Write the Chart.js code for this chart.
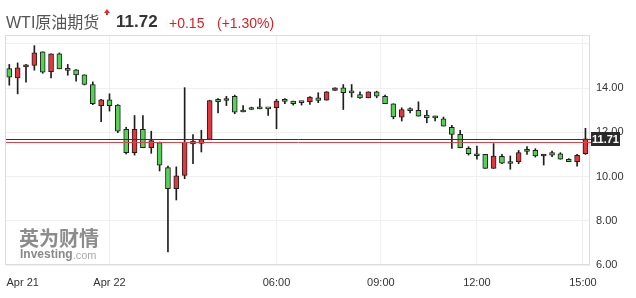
<!DOCTYPE html>
<html>
<head>
<meta charset="utf-8">
<script src="https://cdn.jsdelivr.net/npm/chart.js@4"></script>
<style>
  body { margin: 0; background: #fff; }
  #wrap { position: relative; width: 636px; height: 298px; font-family: "Liberation Sans", Arial, "Noto Sans CJK SC", sans-serif; }
  #wti { position: absolute; left: 0; top: 0; }
  .h { position: absolute; white-space: nowrap; line-height: 20px; }
  #arrow { position: absolute; left: 104px; top: 9px; width: 0; height: 0;
    border-left: 3px solid transparent; border-right: 3px solid transparent; border-bottom: 4px solid #e3262f; }
  #stem { position: absolute; left: 106px; top: 13px; width: 2px; height: 2px; background: #e3262f; }
</style>
</head>
<body>
<div id="wrap">
  <canvas id="wti" width="636" height="298"></canvas>
  <span class="h" style="left:6px;top:12.5px;font-size:16px;color:#555">WTI原油期货</span>
  <span id="arrow"></span><span id="stem"></span>
  <span class="h" style="left:116px;top:12px;font-size:17px;font-weight:bold;color:#333">11.72</span>
  <span class="h" style="left:169px;top:13px;font-size:14px;color:#d9202a">+0.15</span>
  <span class="h" style="left:217px;top:13px;font-size:14px;color:#d9202a">(+1.30%)</span>
</div>
<script>
// 15 minute candles
const opens = [14.88, 14.46, 14.96, 15.02, 15.64, 14.74, 15.55, 14.82, 14.83, 14.60,
  14.16, 13.20, 13.47, 13.23, 12.13, 11.08, 12.13, 11.30, 11.53, 10.40,
  9.45, 10.05, 11.60, 11.50, 11.68, 13.49, 13.46, 13.63, 12.94, 13.04,
  13.07, 13.08, 13.11, 13.42, 13.41, 13.38, 13.38, 13.56, 13.45, 13.89,
  14.01, 13.80, 13.71, 13.56, 13.83, 13.63, 13.29, 12.69, 13.00, 12.99,
  12.78, 12.67, 12.61, 12.23, 11.91, 11.27, 11.03, 11.00, 10.37, 10.91,
  10.61, 10.67, 11.16, 11.18, 10.93, 11.08, 11.03, 10.78, 10.67, 11.03];
const highs = [15.07, 15.14, 15.07, 15.92, 15.64, 15.55, 15.59, 15.07, 14.84, 14.60,
  14.28, 13.49, 13.74, 13.25, 12.23, 12.76, 12.76, 12.05, 11.56, 10.47,
  10.44, 14.02, 11.90, 12.09, 13.45, 13.53, 13.63, 13.68, 13.21, 13.14,
  13.52, 13.08, 13.49, 13.52, 13.41, 13.38, 13.61, 13.79, 13.84, 14.01,
  14.16, 14.16, 13.83, 13.83, 13.86, 13.68, 13.29, 13.11, 13.11, 13.38,
  12.99, 12.73, 12.69, 12.32, 12.09, 11.35, 11.38, 11.00, 11.49, 11.00,
  10.93, 11.18, 11.35, 11.26, 11.00, 11.15, 11.08, 10.81, 11.00, 12.18];
const lows = [14.13, 13.74, 14.27, 14.81, 14.67, 14.46, 14.87, 14.58, 14.31, 14.14,
  13.25, 12.48, 12.96, 11.98, 11.02, 10.97, 11.30, 11.05, 10.25, 6.59,
  8.94, 9.90, 10.58, 11.11, 11.68, 12.88, 13.21, 12.84, 12.92, 13.03,
  13.06, 12.76, 12.16, 13.29, 13.23, 13.23, 13.26, 13.34, 13.45, 13.89,
  13.03, 13.59, 13.53, 13.56, 13.56, 13.29, 12.61, 12.51, 12.88, 12.73,
  12.43, 12.51, 12.28, 11.27, 11.30, 10.97, 10.78, 10.37, 10.37, 10.58,
  10.33, 10.58, 11.00, 10.88, 10.52, 10.90, 10.78, 10.67, 10.47, 11.00];
const closes = [14.49, 14.92, 15.04, 15.59, 14.72, 15.55, 14.87, 14.80, 14.60, 14.16,
  13.29, 13.47, 13.21, 12.05, 11.08, 12.13, 11.30, 11.63, 10.51, 9.45,
  10.03, 11.56, 11.47, 11.68, 13.44, 13.38, 13.44, 12.91, 12.92, 13.03,
  13.06, 13.06, 13.41, 13.40, 13.30, 13.34, 13.59, 13.44, 13.83, 14.01,
  13.79, 13.78, 13.56, 13.83, 13.63, 13.29, 12.70, 13.03, 12.98, 12.73,
  12.66, 12.65, 12.28, 11.91, 11.30, 11.03, 10.94, 10.37, 10.93, 10.60,
  10.59, 11.08, 11.14, 10.93, 11.00, 10.97, 10.78, 10.67, 10.96, 11.71];

const tickPos = [1.6, 12, 32, 44.5, 56, 68.7];
const tickText = ['Apr 21', 'Apr 22', '06:00', '09:00', '12:00', '15:00'];
const yTicks = [6, 8, 10, 12, 14, 16];
const lastPrice = 11.71;
const prevClose = 11.57;

const upColor = '#e0383e';
const downColor = '#55d155';
const edge = '#1e1e1e';

const bodies = opens.map((o, i) => ({ x: i, y: [o, closes[i]] }));
const wicks = highs.map((h, i) => ({ x: i, y: [lows[i], h] }));
const bodyColors = opens.map((o, i) => closes[i] >= o ? upColor : downColor);

const overlay = {
  id: 'overlay',
  beforeDatasetsDraw(chart) {
    const c = chart.ctx;
    c.save();
    c.textBaseline = 'middle';
    c.fillStyle = '#8c8c8c';
    c.font = 'bold 20px "Noto Sans CJK SC"';
    c.fillText('英为财情', 19, 238.5);
    c.fillStyle = '#888';
    c.font = 'bold 12px "Liberation Sans", Arial';
    c.fillText('Investing', 20, 255);
    const w = c.measureText('Investing').width;
    c.fillStyle = '#aaa';
    c.font = '11px "Liberation Sans", Arial';
    c.fillText('.com', 20 + w, 255.5);
    c.restore();
  },
  afterDatasetsDraw(chart) {
    const c = chart.ctx;
    const a = chart.chartArea;
    const y = chart.scales.y;
    c.save();
    c.lineWidth = 1;
    c.strokeStyle = '#dcdcdc';
    c.strokeRect(a.left - 0.5, a.top + 0.5, a.right - a.left, a.bottom - a.top - 1);
    const yl = Math.round(y.getPixelForValue(lastPrice)) + 0.5;
    const yp = Math.round(y.getPixelForValue(prevClose)) + 0.5;
    c.strokeStyle = '#333';
    c.beginPath(); c.moveTo(a.left, yl); c.lineTo(a.right + 1, yl); c.stroke();
    c.strokeStyle = '#d9474c';
    c.beginPath(); c.moveTo(a.left, yp); c.lineTo(a.right + 1, yp); c.stroke();
    c.restore();
  },
  afterDraw(chart) {
    const c = chart.ctx;
    const a = chart.chartArea;
    const yl = chart.scales.y.getPixelForValue(lastPrice);
    c.save();
    c.fillStyle = '#2a2a2a';
    c.fillRect(a.right + 1, Math.round(yl) - 7, 29, 14);
    c.fillStyle = '#fff';
    c.font = 'bold 11px "Liberation Sans", Arial';
    c.textAlign = 'center';
    c.textBaseline = 'middle';
    c.fillText(lastPrice.toFixed(2), a.right + 15.5, Math.round(yl) + 0.5);
    c.restore();
  }
};

Chart.defaults.font.family = '"Liberation Sans", Arial, sans-serif';
Chart.defaults.font.size = 11;
Chart.defaults.color = '#333';

new Chart(document.getElementById('wti').getContext('2d'), {
  type: 'bar',
  data: {
    datasets: [
      {
        data: bodies,
        backgroundColor: bodyColors,
        borderColor: edge,
        borderWidth: 1,
        borderSkipped: false,
        barThickness: 5,
        minBarLength: 2,
        grouped: false
      },
      {
        data: wicks,
        backgroundColor: edge,
        borderWidth: 0,
        barThickness: 1,
        grouped: false
      }
    ]
  },
  options: {
    responsive: false,
    devicePixelRatio: 1,
    animation: false,
    layout: { padding: { left: 6, top: 35, right: 0, bottom: 0 } },
    plugins: { legend: { display: false }, tooltip: { enabled: false } },
    scales: {
      x: {
        type: 'linear',
        min: -0.395,
        max: 69.545,
        offset: false,
        grid: {
          offset: false,
          drawTicks: false,
          color: ctx => ctx.index === 0 ? 'rgba(0,0,0,0)' : '#efefef'
        },
        border: { display: false },
        afterBuildTicks: s => { s.ticks = tickPos.map(v => ({ value: v })); },
        afterFit: s => {
          s.height = 33;
          s.paddingLeft = 0;
          s.paddingRight = 0;
        },
        ticks: {
          padding: 11,
          autoSkip: false,
          maxRotation: 0,
          callback: v => tickText[tickPos.indexOf(v)]
        }
      },
      y: {
        position: 'right',
        min: 6,
        max: 16.4,
        grid: { drawTicks: false, color: '#efefef' },
        border: { display: false },
        afterBuildTicks: s => { s.ticks = yTicks.map(v => ({ value: v })); },
        afterFit: s => {
          s.width = 46;
          s.paddingTop = 0;
          s.paddingBottom = 0;
        },
        ticks: {
          padding: 6,
          callback: v => v === 16 ? '' : v.toFixed(2)
        }
      }
    }
  },
  plugins: [overlay]
});
</script>
</body>
</html>
